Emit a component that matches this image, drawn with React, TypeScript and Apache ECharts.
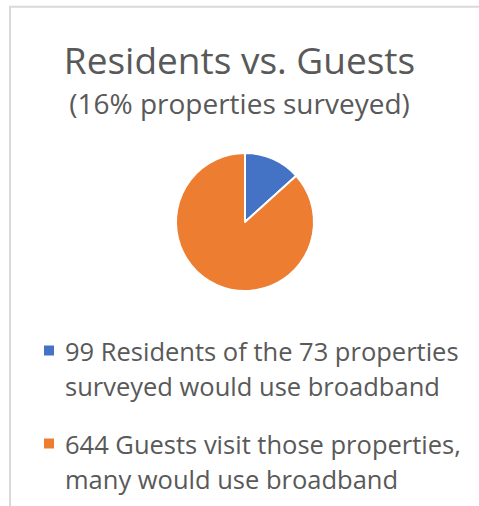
import React, { useEffect, useRef } from "react";
import * as echarts from "echarts";

const titleText = "Residents vs. Guests";
const subtitleText = "(16% properties surveyed)";
const categories = [
  "99 Residents of the 73 properties\nsurveyed would use broadband",
  "644 Guests visit those properties,\nmany would use broadband",
];
const values = [99, 644];
const colors = ["#4472c4", "#ed7d31"];

const FONT = "Open Sans";
const TEXT = "#595959";

export default function App() {
  const ref = useRef<HTMLDivElement>(null);
  useEffect(() => {
    if (!ref.current) return;
    const chart = echarts.init(ref.current, null, { renderer: "svg" });
    const iconPath =
      "path://M0 0L0.01 0M16 70L16.01 70M0 12L10 12L10 22L0 22Z";
    chart.setOption({
      animation: false,
      backgroundColor: "#ffffff",
      color: colors,
      title: [
        {
          text: titleText,
          left: "center",
          top: 35.5,
          textStyle: {
            fontFamily: FONT,
            fontSize: 37,
            lineHeight: 37,
            fontWeight: "normal",
            color: TEXT,
          },
        },
        {
          text: subtitleText,
          left: "center",
          top: 84,
          textStyle: {
            fontFamily: FONT,
            fontSize: 28,
            lineHeight: 28,
            fontWeight: "normal",
            color: TEXT,
          },
        },
      ],
      legend: {
        orient: "vertical",
        left: 39,
        top: 328.5,
        itemGap: 23,
        itemWidth: 16,
        itemHeight: 70,
        icon: iconPath,
        itemStyle: { borderWidth: 0 },
        textStyle: {
          fontFamily: FONT,
          fontSize: 25.5,
          color: TEXT,
          lineHeight: 35,
        },
        data: categories,
      },
      graphic: [
        {
          type: "rect",
          shape: { x: 10, y: 6.7, width: 700, height: 700 },
          style: { fill: "none", stroke: "#d9d9d9", lineWidth: 2 },
          silent: true,
        },
      ],
      series: [
        {
          type: "pie",
          center: [245, 222],
          radius: 69,
          startAngle: 90,
          clockwise: true,
          label: { show: false },
          labelLine: { show: false },
          itemStyle: { borderColor: "#ffffff", borderWidth: 2 },
          data: categories.map((c, i) => ({ name: c, value: values[i] })),
        },
      ],
    });
    return () => chart.dispose();
  }, []);
  return (
    <div
      ref={ref}
      style={{ position: "fixed", left: 0, top: 0, width: 479, height: 506 }}
    />
  );
}
